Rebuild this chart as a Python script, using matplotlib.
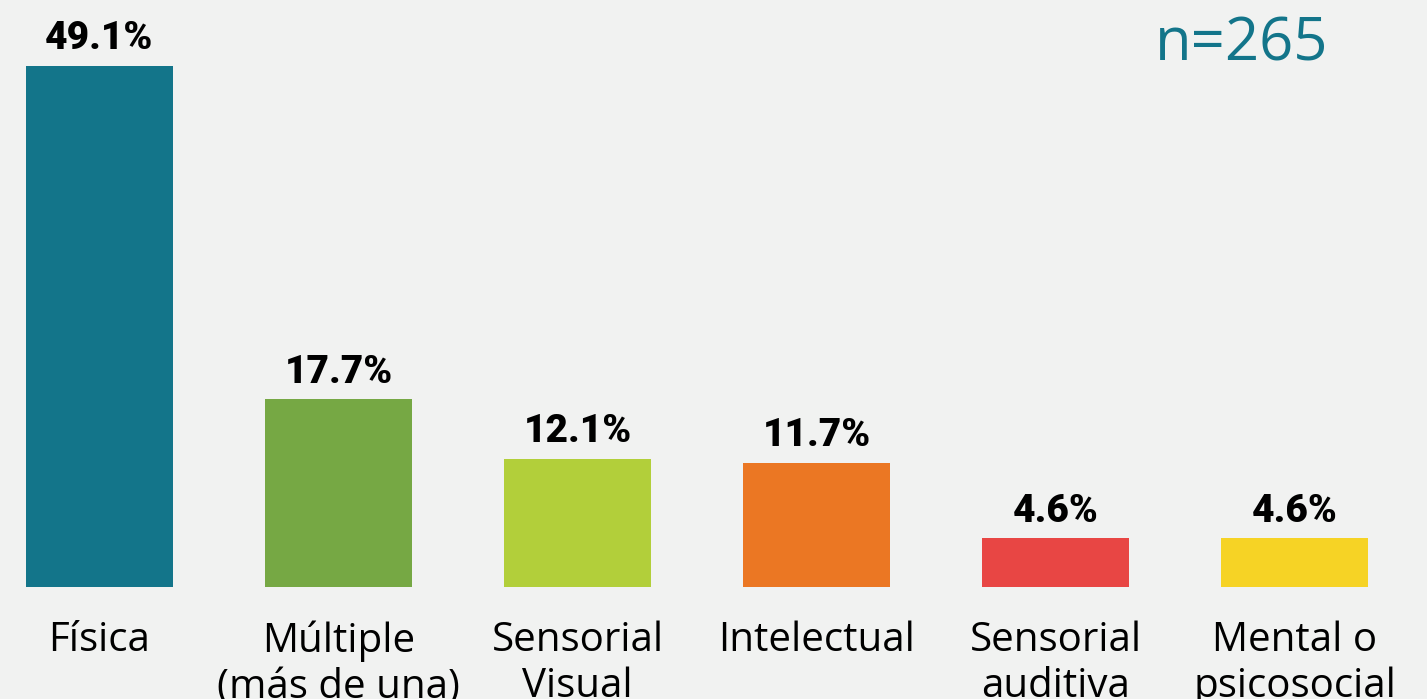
import numpy as np
import matplotlib
matplotlib.use("Agg")
from matplotlib import pyplot as plt

# - - - - - - - DATA - - - - - - -
categories = ["Física", "Múltiple\n(más de una)", "Sensorial\nVisual", "Intelectual",
              "Sensorial\nauditiva", "Mental o\npsicosocial"]
values = [49.1, 17.7, 12.1, 11.7, 4.6, 4.6]
value_labels = ["49.1%", "17.7%", "12.1%", "11.7%", "4.6%", "4.6%"]
sample_label = "n=265"

colors = ["#13758A", "#76A844", "#B2CF3A", "#EB7723", "#E84644", "#F6D325"]
bg = "#F1F2F1"

# - - - - - - - PLOT - - - - - - -
fig = plt.figure(figsize=(14.27, 6.99), dpi=100, facecolor=bg)
ax = fig.add_axes([0, 112 / 699, 1, 587 / 699])
ax.set_facecolor(bg)

x = np.arange(len(categories))
ax.bar(x, values, width=0.615, color=colors)

for xi, v, lab in zip(x, values, value_labels):
    ax.text(xi, v + 0.8, lab, ha="center", va="bottom", fontsize=28,
            fontweight="black", family=["Roboto", "DejaVu Sans"], color="black")

ax.text(0.870, 0.975, sample_label, transform=ax.transAxes, ha="center", va="top",
        fontsize=43, color="#13758A", family=["Open Sans", "DejaVu Sans"])

ax.set_xlim(-0.416, 5.554)
ax.set_ylim(0, 55.3)
ax.set_xticks(x)
ax.set_xticklabels(categories, fontsize=29, family=["Open Sans", "DejaVu Sans"],
                   linespacing=1.2)
ax.tick_params(axis="x", length=0, pad=24)
ax.set_yticks([])
for s in ax.spines.values():
    s.set_visible(False)

fig.savefig("out.png", dpi=100, facecolor=bg)
